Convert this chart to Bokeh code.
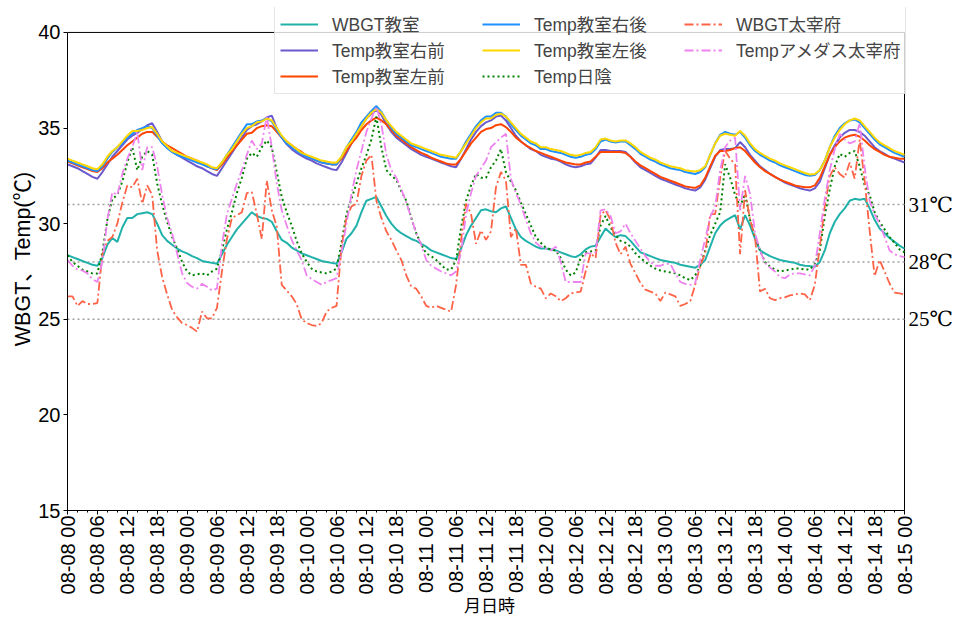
import pandas as pd
from bokeh.plotting import figure
from bokeh.models import Range1d, FixedTicker, DatetimeTickFormatter, Legend, LegendItem, LinearAxis
from bokeh.embed import file_html
from bokeh.resources import INLINE

# ---------------- data (hourly, 08-08 00 .. 08-15 00) ----------------
start = "2023-08-08 00:00"
times = pd.date_range(start, periods=169, freq="h")

wbgt_room = [
    28.35, 28.25, 28.15, 28.05, 27.95, 27.85, 27.8, 28.2, 28.9, 29.25, 29.05, 29.8, 30.3, 30.3, 30.5, 30.55, 30.6, 30.5, 30.0, 29.4, 29.1, 28.9, 28.7, 28.55,
    28.45, 28.3, 28.2, 28.05, 28.0, 27.95, 27.9, 28.4, 28.9, 29.3, 29.7, 30.0, 30.3, 30.6, 30.4, 30.3, 30.25, 30.1, 29.6, 29.15, 29.0, 28.75, 28.6, 28.45,
    28.35, 28.25, 28.15, 28.05, 28.0, 27.95, 27.9, 28.5, 29.2, 29.5, 29.9, 30.6, 31.2, 31.3, 31.4, 30.9, 30.4, 30.0, 29.7, 29.5, 29.35, 29.2, 29.1, 28.95,
    28.8, 28.6, 28.5, 28.4, 28.3, 28.2, 28.15, 28.7, 29.4, 29.9, 30.3, 30.7, 30.75, 30.65, 30.6, 30.8, 30.9, 30.3, 29.7, 29.3, 29.1, 28.95, 28.8, 28.7,
    28.7, 28.65, 28.6, 28.5, 28.4, 28.3, 28.25, 28.4, 28.65, 28.8, 28.85, 29.3, 29.75, 29.5, 29.3, 29.4, 29.35, 29.1, 28.8, 28.5, 28.4, 28.3, 28.2, 28.1,
    28.05, 28.0, 27.95, 27.85, 27.8, 27.75, 27.7, 27.85, 28.1, 28.8, 29.5, 29.9, 30.15, 30.3, 30.45, 29.7, 30.45, 29.9, 29.2, 28.6, 28.45, 28.3, 28.2, 28.1,
    28.05, 28.0, 27.95, 27.85, 27.8, 27.78, 27.75, 28.0, 28.6, 29.5, 30.1, 30.5, 30.8, 31.2, 31.3, 31.25, 31.3, 30.8, 30.2, 29.75, 29.5, 29.25, 29.05, 28.85,
    28.7,
]
temp_right_front = [
    33.1, 33.0, 32.9, 32.75, 32.6, 32.45, 32.35, 32.7, 33.1, 33.5, 33.8, 34.1, 34.4, 34.6, 34.75, 34.95, 35.15, 35.25, 34.8, 34.3, 34.0, 33.75, 33.6, 33.45,
    33.3, 33.15, 33.0, 32.9, 32.75, 32.6, 32.5, 32.9, 33.3, 33.7, 34.1, 34.5, 34.9, 35.1, 35.2, 35.35, 35.55, 35.65, 35.0, 34.5, 34.15, 33.9, 33.7, 33.55,
    33.4, 33.3, 33.15, 33.05, 32.95, 32.85, 32.8, 33.2, 33.7, 34.2, 34.7, 35.1, 35.5, 35.75, 35.95, 35.7, 35.2, 34.8, 34.5, 34.3, 34.1, 33.9, 33.75, 33.6,
    33.5, 33.4, 33.3, 33.2, 33.1, 33.0, 32.95, 33.4, 33.9, 34.4, 34.8, 35.1, 35.3, 35.4, 35.6, 35.65, 35.4, 35.0, 34.6, 34.3, 34.1, 33.9, 33.8, 33.6,
    33.5, 33.4, 33.35, 33.25, 33.1, 33.0, 32.95, 33.0, 33.1, 33.15, 33.45, 33.85, 33.85, 33.8, 33.8, 33.8, 33.75, 33.5, 33.2, 32.95, 32.8, 32.65, 32.5, 32.35,
    32.25, 32.15, 32.05, 31.95, 31.85, 31.78, 31.73, 31.9, 32.3, 32.9, 33.5, 33.85, 33.9, 33.9, 33.95, 34.27, 34.0, 33.6, 33.3, 33.0, 32.8, 32.6, 32.45, 32.3,
    32.15, 32.05, 31.95, 31.85, 31.78, 31.73, 31.85, 32.2, 32.9, 33.6, 34.1, 34.5, 34.75, 34.9, 34.9, 34.8, 34.6, 34.3, 34.0, 33.8, 33.65, 33.5, 33.4, 33.3,
    33.2,
]
temp_left_front = [
    33.25, 33.15, 33.05, 32.95, 32.85, 32.75, 32.7, 32.9, 33.2, 33.4, 33.6, 33.85, 34.1, 34.3, 34.5, 34.7, 34.8, 34.8, 34.55, 34.3, 34.1, 33.95, 33.8, 33.65,
    33.5, 33.4, 33.3, 33.15, 33.0, 32.9, 32.8, 33.1, 33.45, 33.8, 34.1, 34.4, 34.7, 34.75, 35.0, 35.1, 35.15, 35.1, 34.8, 34.5, 34.3, 34.1, 33.9, 33.75,
    33.55, 33.4, 33.3, 33.2, 33.15, 33.1, 33.1, 33.4, 33.8, 34.2, 34.5, 34.9, 35.2, 35.4, 35.55, 35.4, 35.2, 34.9, 34.6, 34.4, 34.2, 34.0, 33.85, 33.7,
    33.6, 33.45, 33.35, 33.25, 33.15, 33.1, 33.1, 33.4, 33.8, 34.2, 34.5, 34.8, 34.95, 35.0, 35.15, 35.2, 35.05, 34.8, 34.5, 34.3, 34.1, 33.95, 33.8, 33.7,
    33.6, 33.5, 33.4, 33.3, 33.2, 33.15, 33.1, 33.1, 33.2, 33.25, 33.5, 33.75, 33.75, 33.75, 33.75, 33.75, 33.7, 33.5, 33.25, 33.05, 32.9, 32.75, 32.6, 32.45,
    32.35, 32.25, 32.15, 32.05, 31.95, 31.9, 31.87, 32.0, 32.4, 33.0, 33.55, 33.8, 33.8, 33.85, 33.95, 34.0, 33.8, 33.5, 33.2, 32.95, 32.75, 32.6, 32.45, 32.3,
    32.2, 32.1, 32.0, 31.95, 31.9, 31.9, 32.0, 32.4, 33.0, 33.6, 34.0, 34.3, 34.5, 34.6, 34.65, 34.55, 34.35, 34.1, 33.9, 33.75, 33.6, 33.5, 33.45, 33.4,
    33.4,
]
temp_right_back = [
    33.3, 33.2, 33.1, 33.0, 32.9, 32.8, 32.75, 33.0, 33.4, 33.75, 34.0, 34.2, 34.5, 34.7, 34.9, 35.0, 35.1, 35.0, 34.6, 34.2, 33.95, 33.75, 33.6, 33.5,
    33.4, 33.3, 33.2, 33.1, 33.0, 32.9, 32.85, 33.2, 33.6, 34.0, 34.4, 34.8, 35.2, 35.2, 35.35, 35.4, 35.5, 35.35, 34.9, 34.5, 34.2, 34.0, 33.8, 33.65,
    33.5, 33.4, 33.3, 33.2, 33.15, 33.1, 33.1, 33.5, 34.0, 34.4, 34.8, 35.3, 35.6, 35.9, 36.15, 35.85, 35.4, 35.0, 34.7, 34.5, 34.3, 34.1, 34.0, 33.9,
    33.8, 33.7, 33.6, 33.5, 33.45, 33.4, 33.4, 33.8, 34.3, 34.7, 35.1, 35.4, 35.6, 35.6, 35.8, 35.8, 35.6, 35.2, 34.9, 34.6, 34.4, 34.2, 34.1, 33.9,
    33.9, 33.8, 33.75, 33.7, 33.6, 33.5, 33.45, 33.5, 33.6, 33.65, 33.9, 34.3, 34.4, 34.3, 34.25, 34.3, 34.3, 34.1, 33.9, 33.65, 33.5, 33.35, 33.25, 33.1,
    33.0, 32.9, 32.85, 32.8, 32.7, 32.65, 32.6, 32.7, 32.95, 33.6, 34.2, 34.65, 34.8, 34.7, 34.65, 34.8, 34.5, 34.1, 33.8, 33.6, 33.45, 33.3, 33.2, 33.05,
    32.95, 32.85, 32.75, 32.65, 32.55, 32.5, 32.55, 32.8, 33.3, 34.0, 34.6, 35.0, 35.25, 35.4, 35.45, 35.3, 35.0, 34.7, 34.4, 34.15, 34.0, 33.85, 33.7, 33.6,
    33.5,
]
temp_left_back = [
    33.4, 33.3, 33.2, 33.1, 33.0, 32.9, 32.85, 33.1, 33.5, 33.8, 34.0, 34.3, 34.6, 34.85, 34.85, 34.9, 35.0, 35.05, 34.7, 34.3, 34.05, 33.8, 33.7, 33.6,
    33.5, 33.4, 33.3, 33.2, 33.1, 32.95, 32.9, 33.2, 33.6, 33.9, 34.3, 34.7, 35.0, 35.1, 35.3, 35.35, 35.5, 35.4, 35.0, 34.6, 34.3, 34.1, 33.9, 33.7,
    33.6, 33.5, 33.4, 33.3, 33.25, 33.2, 33.2, 33.5, 34.0, 34.3, 34.7, 35.1, 35.5, 35.8, 36.0, 35.8, 35.4, 35.1, 34.8, 34.6, 34.4, 34.2, 34.1, 34.0,
    33.9, 33.8, 33.7, 33.6, 33.55, 33.5, 33.45, 33.8, 34.2, 34.6, 35.0, 35.3, 35.5, 35.5, 35.7, 35.75, 35.6, 35.3, 35.0, 34.7, 34.5, 34.3, 34.2, 34.0,
    34.0, 33.9, 33.85, 33.8, 33.7, 33.6, 33.55, 33.6, 33.7, 33.75, 34.0, 34.4, 34.45, 34.35, 34.3, 34.35, 34.35, 34.2, 34.0, 33.75, 33.6, 33.45, 33.35, 33.2,
    33.1, 33.0, 32.95, 32.9, 32.8, 32.75, 32.73, 32.8, 33.0, 33.6, 34.2, 34.6, 34.7, 34.65, 34.6, 34.85, 34.6, 34.2, 33.9, 33.7, 33.55, 33.4, 33.3, 33.15,
    33.05, 32.95, 32.85, 32.75, 32.65, 32.57, 32.6, 32.8, 33.3, 34.0, 34.5, 34.9, 35.2, 35.4, 35.5, 35.4, 35.1, 34.8, 34.5, 34.25, 34.1, 33.95, 33.8, 33.7,
    33.6,
]
temp_shade = [
    28.35, 28.0, 27.8, 27.6, 27.5, 27.4, 27.4, 28.5, 30.2, 31.3, 31.5, 32.2, 33.2, 34.0, 32.8, 33.5, 33.8, 33.6, 32.1, 31.0, 30.1, 29.3, 28.7, 28.0,
    27.5, 27.3, 27.35, 27.4, 27.3, 27.5, 27.65, 28.6, 29.7, 30.6, 31.6, 32.4, 33.4, 33.7, 33.5, 34.0, 34.35, 34.0, 32.7, 31.4, 30.6, 29.9, 29.1, 28.45,
    28.0, 27.65, 27.5, 27.45, 27.4, 27.5, 27.65, 29.0, 30.5, 31.3, 32.1, 32.9, 33.6, 34.4, 35.6, 34.0, 32.8, 32.5, 32.3, 31.7, 31.2, 30.3, 29.5, 28.9,
    28.45, 28.3, 28.1, 27.85, 27.6, 27.6, 28.1, 29.8, 31.2, 32.0, 32.6, 32.4, 32.4, 32.95, 33.3, 33.9, 32.7, 32.2, 31.75, 31.1, 30.5, 29.9, 29.3, 29.0,
    28.75, 28.65, 28.6, 28.2, 27.6, 27.3, 27.45, 28.2, 28.5, 28.55, 28.6, 29.9, 30.4, 29.8, 29.4, 29.1, 29.0, 28.8, 28.45, 28.2, 28.0, 27.8, 27.65, 27.55,
    27.5, 27.45, 27.4, 27.3, 27.15, 27.05, 27.3, 27.8, 28.6, 29.4, 30.0, 30.6, 33.1, 32.4, 31.5, 30.9, 31.55, 30.2, 29.3, 28.6, 28.0, 27.75, 27.6, 27.5,
    27.55, 27.6, 27.65, 27.65, 27.6, 27.6, 27.9, 28.6, 30.4, 31.8, 33.0, 33.65, 33.5, 33.7, 33.8, 33.0, 32.0, 31.5, 30.6, 30.1, 29.7, 29.3, 29.0, 28.65,
    28.5,
]
wbgt_dazaifu = [
    26.2, 26.2, 25.7, 25.95, 25.8, 25.8, 25.85, 28.4, 29.1, 29.3, 30.0, 31.1, 32.0, 31.9, 32.35, 31.05, 32.0, 31.5, 28.6, 27.2, 26.3, 25.5, 25.1, 24.8,
    24.7, 24.55, 24.35, 25.4, 25.05, 25.05, 25.6, 27.5, 29.2, 30.3, 30.45, 30.6, 31.6, 31.65, 30.5, 29.2, 32.25, 30.7, 29.85, 26.8, 26.5, 26.2, 25.8, 25.0,
    24.8, 24.7, 24.65, 24.8, 25.4, 25.6, 25.7, 28.8, 30.3, 30.9, 31.05, 32.5, 33.3, 33.6, 31.2, 30.3, 29.6, 29.15, 28.6, 28.1, 27.3, 26.7, 26.6, 26.2,
    25.7, 25.6, 25.7, 25.6, 25.5, 25.4, 26.8, 29.15, 31.05, 30.5, 28.95, 29.65, 29.15, 29.6, 31.9, 32.7, 32.25, 29.3, 29.75, 27.85, 27.85, 26.87, 26.7, 26.6,
    26.1, 26.35, 26.2, 25.95, 26.1, 26.35, 26.4, 26.45, 27.5, 28.45, 28.2, 30.45, 30.7, 30.2, 29.0, 28.4, 28.8, 27.9, 27.4, 26.9, 26.55, 26.45, 26.35, 25.95,
    26.4, 26.3, 26.2, 25.7, 25.8, 25.95, 26.8, 27.8, 28.45, 30.5, 30.5, 32.4, 33.8, 33.4, 33.1, 28.4, 31.75, 30.2, 29.3, 26.45, 26.6, 26.1, 26.0, 26.1,
    26.15, 26.25, 26.3, 26.35, 26.3, 26.0, 26.8, 28.8, 30.9, 32.5, 32.95, 32.6, 32.4, 33.2, 32.35, 34.4, 32.25, 29.65, 27.25, 28.1, 27.5, 26.87, 26.4, 26.35,
    26.3,
]
temp_amedas = [
    28.1, 27.8, 27.6, 27.55, 27.4, 27.1, 26.95, 28.0, 30.2, 31.65, 31.5, 32.6, 33.4, 34.0, 34.8, 32.8, 34.0, 34.0, 33.0, 31.5, 30.3, 29.5, 28.45, 27.4,
    26.9, 26.7, 26.6, 26.85, 26.7, 26.5, 26.6, 28.9, 30.5, 31.3, 32.1, 32.8, 33.6, 34.35, 33.9, 34.2, 35.6, 34.0, 32.1, 30.7, 29.9, 29.15, 28.6, 28.1,
    27.3, 27.1, 26.95, 26.8, 26.95, 27.05, 27.15, 28.5, 30.0, 31.55, 32.8, 33.8, 34.8, 35.5, 36.1, 35.2, 33.6, 32.8, 32.4, 31.8, 31.1, 30.3, 29.5, 28.9,
    28.1, 27.8, 27.65, 27.5, 27.4, 27.3, 27.5, 28.5, 30.5, 31.6, 32.5, 32.9, 33.3, 34.0, 34.25, 34.5, 34.7, 32.35, 31.6, 31.0, 30.2, 29.5, 29.0, 28.8,
    28.7, 28.6, 28.8, 28.0, 26.95, 26.95, 26.95, 26.95, 28.45, 28.45, 28.5, 30.7, 30.75, 30.4, 29.5, 29.6, 30.0, 29.5, 29.1, 28.7, 28.3, 28.0, 27.8, 27.8,
    27.9, 27.9, 27.4, 26.95, 26.85, 26.8, 26.9, 28.1, 29.2, 30.35, 30.9, 32.8, 34.0, 34.35, 34.5, 30.7, 32.5, 31.55, 29.5, 28.6, 27.95, 27.7, 27.5, 27.2,
    27.15, 27.35, 27.4, 27.4, 27.35, 27.3, 27.8, 29.5, 31.3, 32.8, 33.9, 34.7, 34.4, 34.2, 34.3, 35.25, 32.95, 31.2, 30.5, 30.0, 29.3, 28.6, 28.4, 28.3,
    28.25,
]

series_names = ["WBGT教室", "Temp教室右前", "Temp教室左前", "Temp教室右後",
                "Temp教室左後", "Temp日陰", "WBGT太宰府", "Tempアメダス太宰府"]
threshold_values = [31, 28, 25]
threshold_labels = ["31℃", "28℃", "25℃"]
y_ticks = [15, 20, 25, 30, 35, 40]
y_min, y_max = 15, 40
x_label = "月日時"
y_label = "WBGT、Temp(℃)"

# ---------------- layout (pixels) ----------------
W, H = 955, 619
AX_L, AX_R, AX_T, AX_B = 67, 905, 32, 511      # axes box
EXT_T, EXT_R = 7, 912                           # frame extended so the legend fits inside it
LEG_L, LEG_B = 274, 95                          # legend box left / bottom
FONT = "Liberation Sans, Noto Sans CJK JP"
SERIF = "Liberation Serif, DejaVu Serif"

t0 = times[0]
t1 = times[-1]
span = (t1 - t0)
y_per_px = (y_max - y_min) / (AX_B - AX_T)
y_top = y_max + (AX_T - EXT_T) * y_per_px
x_right = t1 + span * ((EXT_R - AX_R) / (AX_R - AX_L))

p = figure(width=W, height=H, output_backend="svg", toolbar_location=None,
           x_axis_type="datetime",
           x_range=Range1d(t0, x_right), y_range=Range1d(y_min, y_top),
           min_border_left=AX_L, min_border_right=W - EXT_R,
           min_border_top=EXT_T, min_border_bottom=H - AX_B)
p.background_fill_color = "white"
p.border_fill_color = "white"
p.outline_line_color = None
p.grid.visible = False


def ms(t):
    return (pd.Timestamp(t) - pd.Timestamp("1970-01-01")) // pd.Timedelta("1ms")


major = [ms(t) for t in pd.date_range(t0, t1, freq="6h")]
minor = [ms(t) for t in pd.date_range(t0, t1, freq="2h")]
p.xaxis.ticker = FixedTicker(ticks=major, minor_ticks=minor)
fmt = "%m-%d %H"
p.xaxis.formatter = DatetimeTickFormatter(microseconds=fmt, milliseconds=fmt, seconds=fmt, minsec=fmt,
                                          minutes=fmt, hourmin=fmt, hours=fmt, days=fmt, months=fmt, years=fmt)
p.xaxis.major_label_orientation = 3.14159265 / 2
p.xaxis.bounds = (ms(t0), ms(t1))
p.yaxis.ticker = FixedTicker(ticks=y_ticks)
p.yaxis.bounds = (y_min, y_max)

for ax in (p.xaxis[0], p.yaxis[0]):
    ax.axis_line_color = "black"
    ax.major_tick_line_color = "black"
    ax.minor_tick_line_color = "black"
    ax.major_tick_in = 0
    ax.major_tick_out = 4
    ax.minor_tick_in = 0
    ax.major_label_text_font = FONT
    ax.major_label_text_font_size = "20px"
    ax.major_label_text_color = "black"
    ax.axis_label_text_font = FONT
    ax.axis_label_text_font_style = "normal"
    ax.axis_label_text_color = "black"
p.xaxis.major_label_standoff = 1
p.yaxis.major_label_standoff = 3
p.xaxis.minor_tick_out = 2
p.yaxis.minor_tick_out = 0
p.xaxis.axis_label = x_label
p.xaxis.axis_label_text_font_size = "17px"
p.xaxis.axis_label_standoff = 0
p.yaxis.axis_label = y_label
p.yaxis.axis_label_text_font_size = "21.5px"
p.yaxis.axis_label_standoff = 0

# threshold labels on the right, as an axis without line or ticks
thr_axis = LinearAxis(ticker=FixedTicker(ticks=threshold_values),
                      major_label_overrides=dict(zip(threshold_values, threshold_labels)),
                      axis_line_color=None, major_tick_line_color=None, minor_tick_line_color=None,
                      major_tick_out=0, major_tick_in=0, minor_tick_out=0, minor_tick_in=0,
                      major_label_standoff=-3,
                      major_label_text_font=SERIF, major_label_text_font_size="21px",
                      major_label_text_color="black")
p.add_layout(thr_axis, "right")

# top and right spines of the axes box
p.segment(x0=[t0, t1], y0=[y_max, y_min], x1=[t1, t1], y1=[y_max, y_max],
          line_color="black", line_width=1)

# threshold lines
for v in threshold_values:
    p.segment(x0=[t0], y0=[v], x1=[t1], y1=[v], line_color="#a0a0a0",
              line_dash="2 3", line_width=1.5)

colors = ["#20B2AA", "#6A5ACD", "#FF4500", "#1E90FF", "#FFD700", "#008000", "#FF6347", "#EE82EE"]
dashes = ["solid", "solid", "solid", "solid", "solid", "2 3", "9 3 2 3", "9 3 2 3"]
widths = [2, 2, 2, 2, 2, 2, 1.8, 1.8]
data = [wbgt_room, temp_right_front, temp_left_front, temp_right_back,
        temp_left_back, temp_shade, wbgt_dazaifu, temp_amedas]

items = []
for name, ys, c, d, w in zip(series_names, data, colors, dashes, widths):
    r = p.line(times, ys, line_color=c, line_dash=d, line_width=w)
    items.append(LegendItem(label=name, renderers=[r]))

legend = Legend(items=items, location=(LEG_L - AX_L, AX_B - LEG_B), orientation="vertical", nrows=3,
                label_text_font=FONT, label_text_font_size="17.5px",
                glyph_width=38, glyph_height=20, label_height=20,
                label_standoff=14, label_width=149,
                padding=5, spacing=1, margin=0,
                border_line_color="#cccccc", border_line_width=1,
                background_fill_color="white", background_fill_alpha=0.8)
p.add_layout(legend, "center")

open("out.html", "w").write(file_html(p, INLINE))
